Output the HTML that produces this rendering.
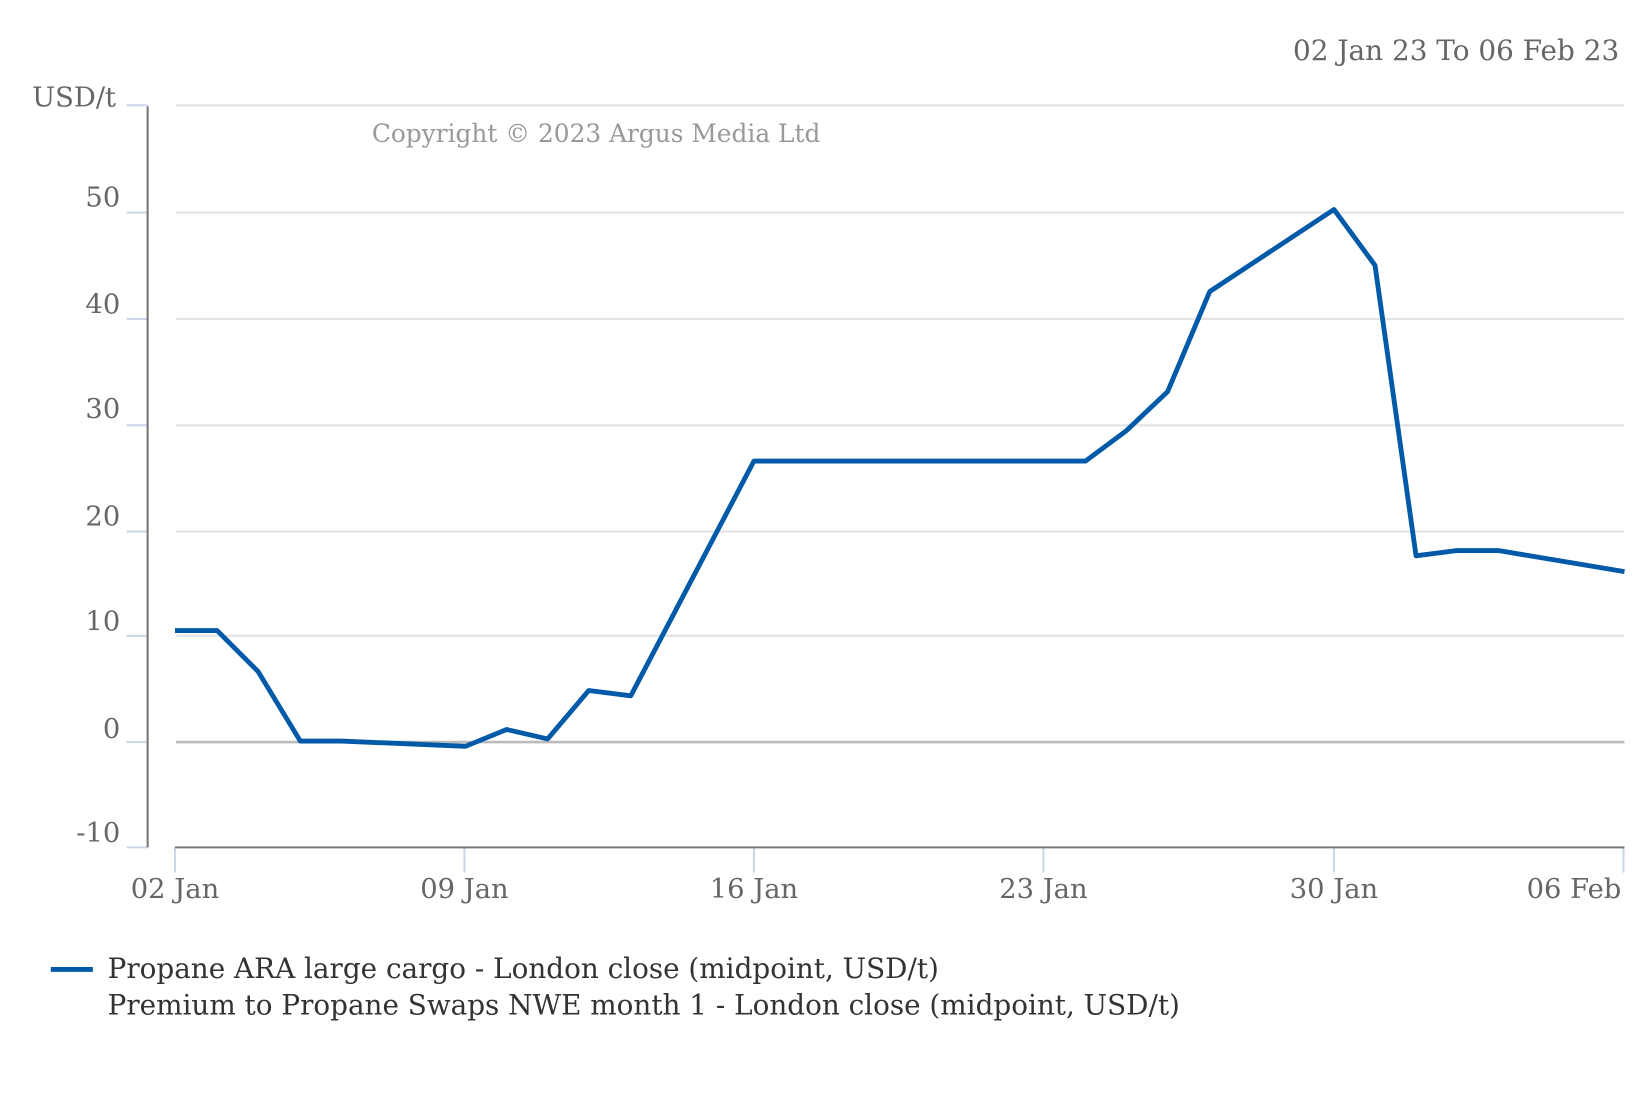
<!DOCTYPE html>
<html><head><meta charset="utf-8"><style>html,body{margin:0;padding:0;background:#fff}svg{display:block}</style></head><body>
<svg width="1650" height="1100" viewBox="0 0 1567 1045" xmlns="http://www.w3.org/2000/svg" font-family="'DejaVu Serif','Liberation Serif',serif">
<text x="1538" y="57" text-anchor="end" font-size="26.5" fill="#666">02 Jan 23 To 06 Feb 23</text>
<text x="110" y="101" text-anchor="end" font-size="26" fill="#666">USD/t</text>
<text x="353" y="135" font-size="23.6" fill="#999">Copyright © 2023 Argus Media Ltd</text>
<g stroke="#e3e3e6" stroke-width="2">
<line x1="167" y1="100" x2="1543" y2="100"/><line x1="167" y1="202" x2="1543" y2="202"/><line x1="167" y1="303" x2="1543" y2="303"/><line x1="167" y1="404" x2="1543" y2="404"/><line x1="167" y1="505" x2="1543" y2="505"/><line x1="167" y1="604" x2="1543" y2="604"/>
</g>
<line x1="167" y1="705" x2="1543" y2="705" stroke="#bbb" stroke-width="2.5"/>
<g stroke="#ccd6eb" stroke-width="2">
<line x1="120" y1="100" x2="140" y2="100"/><line x1="120" y1="202" x2="140" y2="202"/><line x1="120" y1="303" x2="140" y2="303"/><line x1="120" y1="404" x2="140" y2="404"/><line x1="120" y1="505" x2="140" y2="505"/><line x1="120" y1="604" x2="140" y2="604"/><line x1="120" y1="705" x2="140" y2="705"/><line x1="120" y1="805" x2="140" y2="805"/>
<line x1="166" y1="805" x2="166" y2="829"/><line x1="441" y1="805" x2="441" y2="829"/><line x1="716" y1="805" x2="716" y2="829"/><line x1="991" y1="805" x2="991" y2="829"/><line x1="1267" y1="805" x2="1267" y2="829"/><line x1="1542" y1="805" x2="1542" y2="829"/>
</g>
<line x1="140" y1="101" x2="140" y2="805" stroke="#777" stroke-width="2"/>
<line x1="166" y1="805" x2="1543" y2="805" stroke="#777" stroke-width="2"/>
<g font-size="26" fill="#666" text-anchor="end">
<text x="114" y="196">50</text><text x="114" y="298">40</text><text x="114" y="397">30</text><text x="114" y="499">20</text><text x="114" y="599">10</text><text x="114" y="701">0</text><text x="114" y="800">-10</text>
</g>
<g font-size="26" fill="#666" text-anchor="middle">
<text x="166" y="853">02 Jan</text><text x="441" y="853">09 Jan</text><text x="716" y="853">16 Jan</text><text x="991" y="853">23 Jan</text><text x="1267" y="853">30 Jan</text><text x="1495" y="853">06 Feb</text>
</g>
<polyline fill="none" stroke="#005aa8" stroke-width="4.6" stroke-linejoin="round" points="166,599 206,599 245,638 285,704 324,704 442,709 481,693 520,702 559,656 599,661 716,438 1031,438 1070,409 1109,372 1149,277 1267,199 1306,252 1345,528 1384,523 1423,523 1543,543"/>
<line x1="48" y1="921" x2="88" y2="921" stroke="#005aa8" stroke-width="4.6"/>
<text x="102" y="929" font-size="26.45" fill="#333">Propane ARA large cargo - London close (midpoint, USD/t)</text>
<text x="102" y="964" font-size="26.45" fill="#333">Premium to Propane Swaps NWE month 1 - London close (midpoint, USD/t)</text>
</svg>
</body></html>
